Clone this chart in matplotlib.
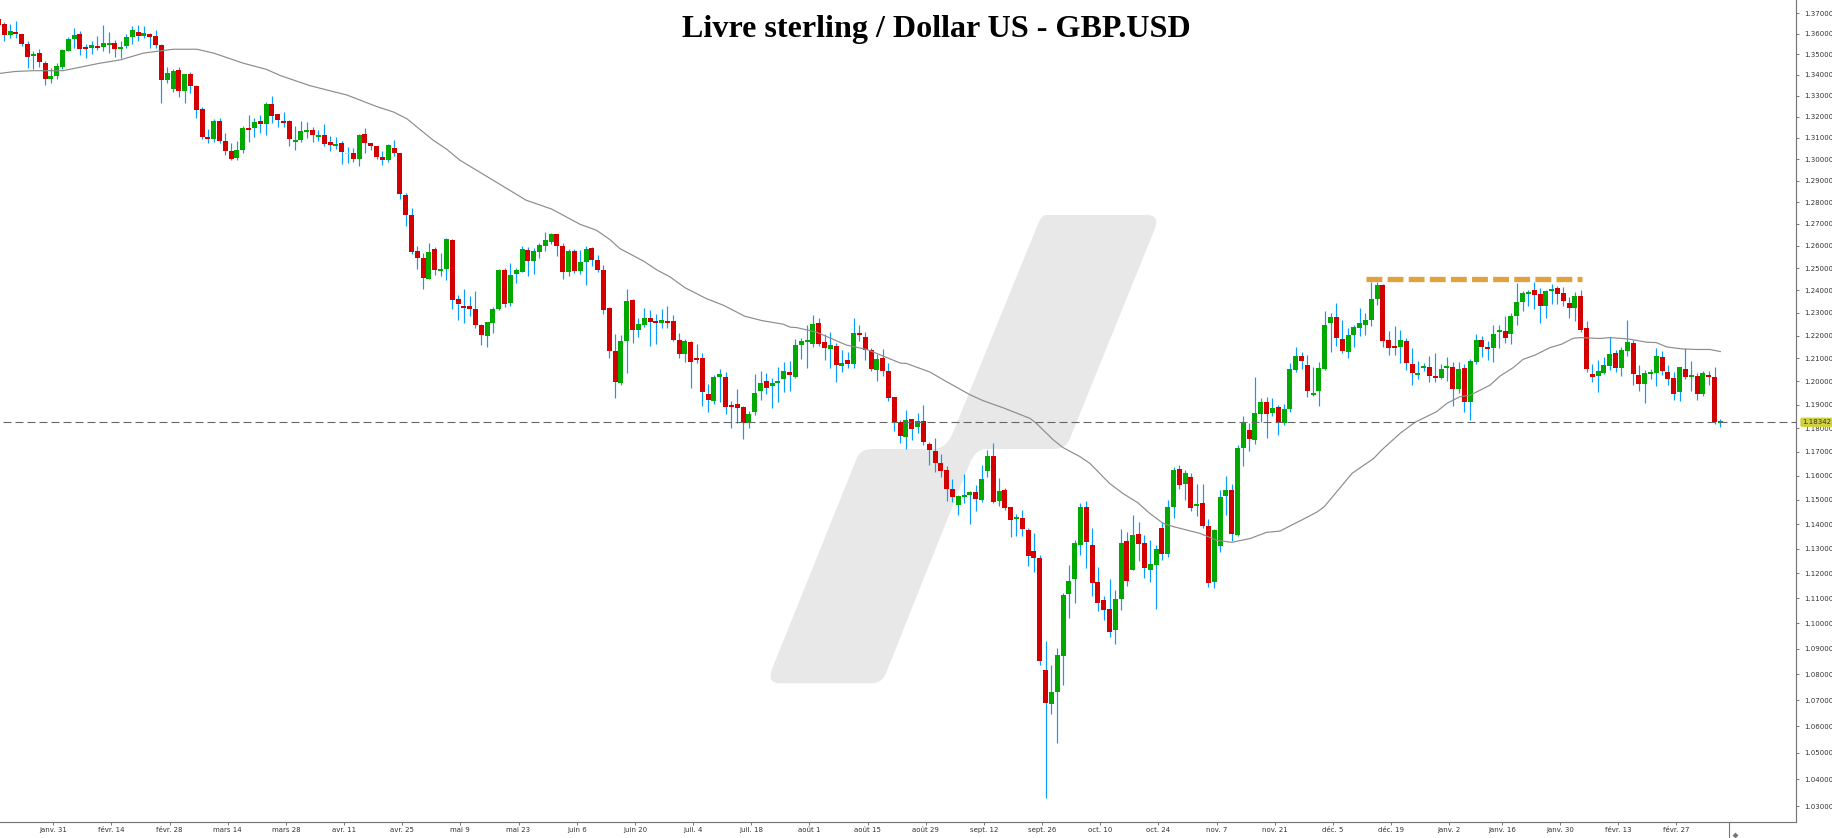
#!/usr/bin/env python3
"""GBP/USD daily candles with moving average, values read off the reference picture."""
import matplotlib

matplotlib.use("Agg")
import matplotlib.pyplot as plt
import numpy as np
from matplotlib.lines import Line2D
from matplotlib.patches import PathPatch
from matplotlib.path import Path
from matplotlib.ticker import FixedLocator, NullLocator

W, H = 1833, 838
TITLE = "Livre sterling / Dollar US - GBP.USD"

OPEN = [
    1.3672,1.3648,1.3594,1.3608,1.3598,1.3550,1.3492,1.3506,1.3457,1.3380,
    1.3394,1.3438,1.3516,1.3574,1.3598,1.3535,1.3531,1.3540,1.3535,1.3545,
    1.3555,1.3526,1.3540,1.3584,1.3608,1.3589,1.3598,1.3589,1.3545,1.3375,
    1.3332,1.3423,1.3323,1.3403,1.3346,1.3236,1.3103,1.3094,1.3179,1.3084,
    1.3037,1.3005,1.3042,1.3146,1.3146,1.3179,1.3165,1.3260,1.3213,1.3179,
    1.3179,1.3080,1.3089,1.3127,1.3137,1.3103,1.3113,1.3080,1.3061,1.3075,
    1.3023,1.3028,1.3000,1.3118,1.3075,1.3061,1.3009,1.2995,1.3052,1.3028,
    1.2832,1.2740,1.2576,1.2545,1.2451,1.2585,1.2487,1.2496,1.2626,1.2361,
    1.2330,1.2330,1.2316,1.2246,1.2197,1.2254,1.2316,1.2491,1.2343,1.2473,
    1.2482,1.2580,1.2531,1.2571,1.2598,1.2617,1.2653,1.2598,1.2482,1.2576,
    1.2487,1.2527,1.2589,1.2536,1.2491,1.2321,1.2132,1.1993,1.2175,1.2357,
    1.2223,1.2246,1.2276,1.2263,1.2254,1.2263,1.2263,1.2180,1.2119,1.2171,
    1.2101,1.2101,1.1946,1.1916,1.2019,1.2019,1.1899,1.1903,1.1890,1.1823,
    1.1869,1.1959,1.2001,1.1980,1.1993,1.2010,1.2041,1.2019,1.2158,1.2171,
    1.2162,1.2254,1.2171,1.2141,1.2154,1.2067,1.2093,1.2075,1.2210,1.2193,
    1.2136,1.2049,1.2101,1.2045,1.1933,1.1827,1.1763,1.1839,1.1806,1.1831,
    1.1734,1.1704,1.1654,1.1624,1.1545,1.1478,1.1511,1.1519,1.1532,1.1499,
    1.1620,1.1683,1.1495,1.1540,1.1470,1.1422,1.1426,1.1375,1.1289,1.1261,
    1.0817,1.0685,1.0731,1.0873,1.1116,1.1177,1.1314,1.1470,1.1314,1.1165,
    1.1092,1.1057,1.0974,1.1096,1.1330,1.1213,1.1360,1.1322,1.1213,1.1233,
    1.1384,1.1277,1.1470,1.1628,1.1565,1.1595,1.1474,1.1486,1.1392,1.1165,
    1.1310,1.1515,1.1540,1.1356,1.1717,1.1793,1.1751,1.1861,1.1911,1.1865,
    1.1890,1.1823,1.1882,1.2049,1.2110,1.2071,1.1941,1.1958,1.2054,1.2254,
    1.2281,1.2184,1.2127,1.2201,1.2232,1.2245,1.2268,1.2361,1.2424,1.2180,
    1.2153,1.2149,1.2175,1.2075,1.2027,1.2058,1.2062,1.2023,1.2014,1.2058,
    1.2062,1.1967,1.2058,1.1911,1.2084,1.2180,1.2149,1.2145,1.2215,1.2219,
    1.2206,1.2285,1.2348,1.2384,1.2402,1.2384,1.2330,1.2397,1.2410,1.2388,
    1.2343,1.2320,1.2375,1.2232,1.2032,1.2023,1.2036,1.2067,1.2123,1.2058,
    1.2132,1.2167,1.2027,1.1989,1.2032,1.2036,1.2106,1.2041,1.2014,1.1954,
    1.2054,1.2019,1.2023,1.1946,1.2027,1.2019,1.1822,
]
HIGH = [
    1.3684,1.3657,1.3648,1.3662,1.3600,1.3565,1.3516,1.3526,1.3467,1.3433,
    1.3457,1.3526,1.3584,1.3628,1.3613,1.3550,1.3565,1.3589,1.3643,1.3608,
    1.3570,1.3565,1.3598,1.3638,1.3643,1.3638,1.3603,1.3618,1.3550,1.3438,
    1.3428,1.3438,1.3403,1.3413,1.3351,1.3246,1.3141,1.3189,1.3194,1.3122,
    1.3075,1.3084,1.3155,1.3208,1.3194,1.3208,1.3270,1.3298,1.3213,1.3222,
    1.3184,1.3155,1.3179,1.3175,1.3151,1.3137,1.3165,1.3108,1.3103,1.3084,
    1.3056,1.3052,1.3118,1.3146,1.3075,1.3061,1.3037,1.3070,1.3089,1.3028,
    1.2841,1.2772,1.2599,1.2567,1.2612,1.2594,1.2567,1.2634,1.2630,1.2379,
    1.2406,1.2375,1.2397,1.2250,1.2259,1.2325,1.2496,1.2500,1.2522,1.2500,
    1.2598,1.2594,1.2589,1.2612,1.2662,1.2658,1.2655,1.2612,1.2585,1.2585,
    1.2580,1.2598,1.2594,1.2558,1.2513,1.2325,1.2206,1.2201,1.2406,1.2360,
    1.2276,1.2321,1.2312,1.2294,1.2316,1.2330,1.2290,1.2210,1.2184,1.2175,
    1.2162,1.2123,1.1989,1.2027,1.2054,1.2041,1.1916,1.1966,1.1894,1.1873,
    1.2032,1.2045,1.2036,1.2014,1.2062,1.2084,1.2088,1.2184,1.2188,1.2246,
    1.2290,1.2276,1.2206,1.2215,1.2167,1.2136,1.2127,1.2276,1.2246,1.2215,
    1.2145,1.2119,1.2141,1.2080,1.1935,1.1835,1.1877,1.1841,1.1865,1.1899,
    1.1742,1.1759,1.1692,1.1641,1.1586,1.1519,1.1607,1.1536,1.1561,1.1645,
    1.1708,1.1738,1.1590,1.1549,1.1472,1.1441,1.1458,1.1384,1.1364,1.1273,
    1.0930,1.0836,1.0904,1.1120,1.1233,1.1334,1.1486,1.1495,1.1384,1.1225,
    1.1108,1.1177,1.1132,1.1379,1.1368,1.1437,1.1408,1.1356,1.1334,1.1314,
    1.1408,1.1499,1.1637,1.1645,1.1624,1.1611,1.1565,1.1565,1.1422,1.1379,
    1.1540,1.1599,1.1565,1.1730,1.1852,1.1823,1.2021,1.1931,1.1935,1.1927,
    1.1899,1.1903,1.2080,1.2149,1.2127,1.2115,1.2062,1.2084,1.2307,1.2299,
    1.2343,1.2268,1.2232,1.2245,1.2320,1.2299,1.2437,1.2437,1.2428,1.2219,
    1.2241,1.2223,1.2188,1.2145,1.2088,1.2080,1.2110,1.2123,1.2075,1.2106,
    1.2084,1.2084,1.2075,1.2097,1.2206,1.2197,1.2175,1.2245,1.2245,1.2285,
    1.2299,1.2433,1.2397,1.2402,1.2437,1.2410,1.2402,1.2428,1.2419,1.2415,
    1.2370,1.2393,1.2402,1.2263,1.2075,1.2093,1.2106,1.2193,1.2136,1.2149,
    1.2268,1.2180,1.2071,1.2049,1.2054,1.2145,1.2132,1.2071,1.2041,1.2064,
    1.2145,1.2088,1.2036,1.2045,1.2045,1.2062,1.1839,
]
LOW = [
    1.3634,1.3565,1.3581,1.3581,1.3540,1.3433,1.3428,1.3438,1.3351,1.3361,
    1.3380,1.3428,1.3516,1.3531,1.3497,1.3482,1.3502,1.3521,1.3516,1.3506,
    1.3487,1.3482,1.3531,1.3550,1.3565,1.3579,1.3531,1.3531,1.3265,1.3361,
    1.3318,1.3294,1.3265,1.3313,1.3194,1.3094,1.3075,1.3080,1.3075,1.3019,
    1.2995,1.2995,1.3028,1.3080,1.3103,1.3122,1.3113,1.3170,1.3151,1.3151,
    1.3061,1.3042,1.3080,1.3098,1.3080,1.3084,1.3061,1.3037,1.3047,1.2977,
    1.2981,1.2986,1.2967,1.3028,1.3042,1.3000,1.2972,1.2986,1.3014,1.2814,
    1.2690,1.2563,1.2496,1.2406,1.2451,1.2469,1.2464,1.2446,1.2316,1.2268,
    1.2254,1.2285,1.2232,1.2158,1.2149,1.2210,1.2312,1.2325,1.2330,1.2433,
    1.2482,1.2464,1.2473,1.2545,1.2576,1.2608,1.2554,1.2451,1.2464,1.2478,
    1.2473,1.2424,1.2509,1.2482,1.2294,1.2101,1.1929,1.1984,1.2036,1.2167,
    1.2193,1.2237,1.2154,1.2162,1.2232,1.2232,1.2175,1.2101,1.2084,1.1971,
    1.2080,1.1894,1.1869,1.1903,1.1911,1.1861,1.1801,1.1823,1.1755,1.1801,
    1.1856,1.1920,1.1946,1.1886,1.1911,1.1954,1.1959,1.2014,1.2097,1.2058,
    1.2149,1.2154,1.2093,1.2058,1.1997,1.2041,1.2058,1.2058,1.2175,1.2093,
    1.2045,1.2001,1.2023,1.1916,1.1789,1.1738,1.1713,1.1751,1.1780,1.1730,
    1.1645,1.1615,1.1595,1.1495,1.1490,1.1437,1.1486,1.1400,1.1453,1.1490,
    1.1595,1.1486,1.1474,1.1458,1.1347,1.1351,1.1351,1.1229,1.1205,1.0836,
    1.0330,1.0647,1.0537,1.0759,1.1021,1.1080,1.1273,1.1221,1.1108,1.1049,
    1.1013,1.0946,1.0918,1.1053,1.1149,1.1213,1.1250,1.1181,1.1165,1.1057,
    1.1253,1.1265,1.1426,1.1545,1.1499,1.1453,1.1433,1.1384,1.1145,1.1141,
    1.1285,1.1437,1.1330,1.1351,1.1641,1.1704,1.1734,1.1827,1.1759,1.1852,
    1.1772,1.1814,1.1869,1.2041,1.2054,1.1933,1.1937,1.1894,1.2049,1.2127,
    1.2153,1.2123,1.2101,1.2149,1.2197,1.2201,1.2241,1.2334,1.2149,1.2115,
    1.2115,1.2080,1.2049,1.1984,1.2010,1.2045,1.1997,1.1997,1.2010,1.2001,
    1.1894,1.1950,1.1869,1.1835,1.2075,1.2106,1.2093,1.2084,1.2145,1.2167,
    1.2162,1.2245,1.2307,1.2330,1.2316,1.2254,1.2276,1.2338,1.2338,1.2330,
    1.2276,1.2263,1.2215,1.2041,1.1997,1.1954,1.2032,1.2049,1.2041,1.2023,
    1.2110,1.1984,1.1958,1.1907,1.2010,1.1980,1.2027,1.1984,1.1920,1.1916,
    1.2010,1.1958,1.1920,1.1937,1.1984,1.1818,1.1805,
]
CLOSE = [
    1.3644,1.3594,1.3613,1.3598,1.3550,1.3487,1.3502,1.3462,1.3380,1.3394,
    1.3443,1.3521,1.3574,1.3594,1.3526,1.3526,1.3545,1.3531,1.3555,1.3555,
    1.3526,1.3535,1.3584,1.3618,1.3589,1.3603,1.3584,1.3545,1.3375,1.3408,
    1.3418,1.3323,1.3403,1.3346,1.3232,1.3103,1.3094,1.3179,1.3084,1.3037,
    1.3000,1.3042,1.3146,1.3137,1.3175,1.3165,1.3260,1.3203,1.3184,1.3170,
    1.3094,1.3089,1.3132,1.3137,1.3113,1.3113,1.3070,1.3066,1.3070,1.3033,
    1.3023,1.3000,1.3113,1.3075,1.3061,1.3009,1.2995,1.3066,1.3028,1.2837,
    1.2740,1.2572,1.2545,1.2455,1.2572,1.2491,1.2496,1.2630,1.2357,1.2339,
    1.2321,1.2316,1.2246,1.2201,1.2259,1.2316,1.2491,1.2339,1.2469,1.2491,
    1.2585,1.2531,1.2576,1.2603,1.2626,1.2653,1.2598,1.2482,1.2576,1.2487,
    1.2527,1.2585,1.2536,1.2491,1.2312,1.2132,1.1997,1.2175,1.2352,1.2223,
    1.2250,1.2276,1.2259,1.2254,1.2268,1.2254,1.2180,1.2119,1.2175,1.2084,
    1.2093,1.1954,1.1920,1.2019,1.2032,1.1890,1.1890,1.1886,1.1823,1.1861,
    1.1950,1.1993,1.1971,1.1993,1.2001,1.2045,1.2027,1.2158,1.2175,1.2180,
    1.2250,1.2162,1.2145,1.2158,1.2071,1.2080,1.2075,1.2210,1.2201,1.2136,
    1.2054,1.2097,1.2045,1.1929,1.1827,1.1767,1.1835,1.1797,1.1831,1.1742,
    1.1708,1.1654,1.1620,1.1545,1.1511,1.1515,1.1519,1.1532,1.1503,1.1586,
    1.1683,1.1490,1.1536,1.1466,1.1418,1.1430,1.1379,1.1269,1.1261,1.0852,
    1.0689,1.0731,1.0877,1.1112,1.1169,1.1322,1.1470,1.1326,1.1161,1.1080,
    1.1053,1.0966,1.1096,1.1322,1.1169,1.1356,1.1318,1.1221,1.1237,1.1297,
    1.1277,1.1470,1.1624,1.1561,1.1611,1.1466,1.1482,1.1392,1.1161,1.1375,
    1.1511,1.1540,1.1360,1.1717,1.1823,1.1755,1.1865,1.1911,1.1861,1.1886,
    1.1823,1.1882,1.2054,1.2110,1.2088,1.1958,1.1950,1.2058,1.2245,1.2281,
    1.2188,1.2132,1.2201,1.2237,1.2254,1.2268,1.2361,1.2424,1.2175,1.2145,
    1.2145,1.2180,1.2080,1.2036,1.2036,1.2067,1.2023,1.2014,1.2054,1.2067,
    1.1967,1.2054,1.1911,1.2088,1.2180,1.2149,1.2140,1.2206,1.2223,1.2188,
    1.2285,1.2348,1.2388,1.2393,1.2379,1.2330,1.2397,1.2406,1.2384,1.2352,
    1.2320,1.2375,1.2223,1.2054,1.2019,1.2045,1.2071,1.2119,1.2058,1.2136,
    1.2171,1.2032,1.1989,1.2036,1.2041,1.2110,1.2045,1.2010,1.1946,1.2062,
    1.2019,1.2027,1.1946,1.2036,1.2019,1.1826,1.1830,
]

# moving average, read at the bends of the line (candle index, price)
MA_IDX = [
    0.3,2.8,6,11.1,17.4,20.9,24.9,27.8,30.1,34.1,37,42.1,46.1,48.4,53.5,57.6,59.9,65,67.9,70.2,
    74.7,77,79.3,90.7,95.1,100,102.8,105.1,106.8,110.9,113.2,115.4,118,121.7,124.6,128.3,131.2,
    134.9,136.1,137.2,140.6,145.8,149.3,155,156.1,160.1,163,167,169.3,172.7,177.3,178.4,181.3,
    183,185.9,187.6,191,193.3,195.9,197.9,200.2,202,206.5,209.4,212,215.2,218,220.3,222,224,
    226.7,227.9,232.7,236.4,237.8,241,243.5,247.2,249,251.2,253,256.4,258.1,260.4,262.1,264.1,
    266.7,268.7,270.7,271.9,275.3,277,280.2,283.3,285,286.8,289.6,291.9,294.2,296,
]
MA_VAL = [
    1.3407,1.3416,1.3420,1.3420,1.3456,1.3472,1.3505,1.3516,1.3524,1.3524,1.3505,1.3456,1.3426,
    1.3397,1.3348,1.3319,1.3303,1.3248,1.3222,1.3190,1.3089,1.3047,1.2995,1.2809,1.2768,1.2698,
    1.2671,1.2629,1.2588,1.2531,1.2491,1.2461,1.2412,1.2363,1.2334,1.2285,1.2266,1.2250,1.2237,
    1.2235,1.2215,1.2158,1.2139,1.2080,1.2078,1.2041,1.1999,1.1943,1.1917,1.1887,1.1842,1.1821,
    1.1751,1.1718,1.1680,1.1652,1.1568,1.1526,1.1487,1.1444,1.1403,1.1389,1.1362,1.1334,1.1325,
    1.1341,1.1366,1.1371,1.1392,1.1416,1.1450,1.1471,1.1610,1.1672,1.1708,1.1779,1.1825,1.1870,
    1.1906,1.1934,1.1941,1.1984,1.2023,1.2060,1.2096,1.2114,1.2147,1.2162,1.2188,1.2191,1.2187,
    1.2191,1.2185,1.2171,1.2169,1.2150,1.2141,1.2139,1.2139,1.2130,
]

Y_TICKS = [1.03, 1.04, 1.05, 1.06, 1.07, 1.08, 1.09, 1.10, 1.11, 1.12, 1.13, 1.14, 1.15, 1.16, 1.17, 1.18,
           1.19, 1.20, 1.21, 1.22, 1.23, 1.24, 1.25, 1.26, 1.27, 1.28, 1.29, 1.30, 1.31, 1.32, 1.33, 1.34,
           1.35, 1.36, 1.37]
X_TICK_IDX = [9, 19, 29, 39, 49, 59, 69, 79, 89, 99, 109, 119, 129, 139, 149, 159, 169, 179, 189, 199,
              209, 219, 229, 239, 249, 258, 268, 278, 288]
X_LABELS = ["janv. 31", "févr. 14", "févr. 28", "mars 14", "mars 28", "avr. 11", "avr. 25", "mai 9",
            "mai 23", "juin 6", "juin 20", "juil. 4", "juil. 18", "août 1", "août 15", "août 29",
            "sept. 12", "sept. 26", "oct. 10", "oct. 24", "nov. 7", "nov. 21", "déc. 5", "déc. 19",
            "janv. 2", "janv. 16", "janv. 30", "févr. 13", "févr. 27"]

LAST_LINE = 1.1825
LAST_LABEL = "1.18342"
RESIST_PRICE = 1.2449
RESIST_RANGE = [235.1, 272.3]

AXIS_GREY = "#777777"

fig = plt.figure(figsize=(W / 100, H / 100), dpi=100, facecolor="white")
ax = fig.add_axes([0, 15.7 / H, 1796.3 / W, 822.3 / H], facecolor="none")
ax.set_yscale("log")

# logo in the background, outline in image pixels
wm_codes = [Path.MOVETO, Path.LINETO, Path.CURVE3, Path.CURVE3, Path.LINETO, Path.CURVE3, Path.CURVE3,
            Path.LINETO, Path.CURVE3, Path.CURVE3, Path.LINETO, Path.CURVE3, Path.CURVE3, Path.LINETO,
            Path.CURVE3, Path.CURVE3, Path.LINETO, Path.CURVE3, Path.CURVE3, Path.LINETO, Path.CURVE3,
            Path.CURVE3, Path.LINETO, Path.CURVE3, Path.CURVE3, Path.CLOSEPOLY]
wm_zoom = [(830, 45), (1130, 45), (1170, 45), (1155, 85), (900, 715), (888, 747), (855, 747), (650, 747),
           (615, 747), (597, 795), (348, 1420), (336, 1450), (305, 1450), (30, 1450), (-8, 1450), (5, 1410),
           (260, 775), (272, 747), (305, 747), (490, 747), (530, 747), (550, 695), (805, 70), (815, 45),
           (830, 45), (830, 45)]
wm_pts = [((770 + x / 3) / W, 1 - (200 + y / 3) / H) for x, y in wm_zoom]
logo = PathPatch(Path(wm_pts, wm_codes), facecolor="#e8e8e8", edgecolor="none",
                 transform=fig.transFigure, zorder=-1)
fig.add_artist(logo)

o, h, l, c = map(np.array, (OPEN, HIGH, LOW, CLOSE))
idx = np.arange(len(o))
colors = ["#d40000" if a > b else "#00a800" if b > a else "#f5f000" for a, b in zip(o, c)]
top = np.maximum(o, c)
bot = np.minimum(o, c)

ax.vlines(idx, l, h, color="#0a9bff", lw=0.85, zorder=2)
ax.bar(idx, np.maximum(top - bot, 0.0007), bottom=bot, width=0.86, color=colors, lw=0, zorder=3, antialiased=False)
ax.plot(MA_IDX, MA_VAL, color="#8c8c8c", lw=0.85, zorder=4)

ax.hlines(LAST_LINE, 0.8, 310, color="#666666", lw=0.8, linestyles=(0, (7.2, 3.6)), zorder=5)
ax.plot(RESIST_RANGE, [RESIST_PRICE] * 2, color="#e0a23c", lw=3.8, ls=(0, (3.0, 1.0)), dash_capstyle="butt", zorder=6)

ax.set_xlim(0.258, 309.06)
ax.set_ylim(1.02398, 1.37657)

for side in ("top", "left"):
    ax.spines[side].set_visible(False)
for side in ("bottom", "right"):
    ax.spines[side].set_color(AXIS_GREY)
    ax.spines[side].set_linewidth(0.85)

ax.yaxis.tick_right()
ax.yaxis.set_major_locator(FixedLocator(Y_TICKS))
ax.yaxis.set_minor_locator(NullLocator())
ax.set_yticklabels([f"{v:.5f}" for v in Y_TICKS])
ax.set_xticks(np.array(X_TICK_IDX) + 0.4)
ax.set_xticklabels(X_LABELS)
ax.tick_params(axis="y", length=2, width=0.7, color=AXIS_GREY, labelsize=5.0, labelcolor="#333333", pad=3.5)
ax.tick_params(axis="x", length=2, width=0.7, color=AXIS_GREY, labelsize=5.0, labelcolor="#333333", pad=1.5)

ax.text(1.0032, LAST_LINE, LAST_LABEL, transform=ax.get_yaxis_transform(), ha="left", va="center",
        fontsize=5.0, color="#333333", clip_on=False, zorder=7,
        bbox=dict(boxstyle="round,pad=0.25", facecolor="#d0d140", edgecolor="none"))

# current-time marker under the axis
fig.add_artist(Line2D([1729 / W, 1729 / W], [0, 15.7 / H], color=AXIS_GREY, lw=0.8))
fig.add_artist(Line2D([1735 / W], [1 - 835 / H], marker="D", ms=3, color=AXIS_GREY, mew=0, ls="none"))

fig.text(936.5 / W, 1 - 29 / H, TITLE, ha="center", va="center", family="Liberation Serif",
         fontweight="bold", fontsize=23.1, color="black")

fig.savefig("out.png", dpi=100)
